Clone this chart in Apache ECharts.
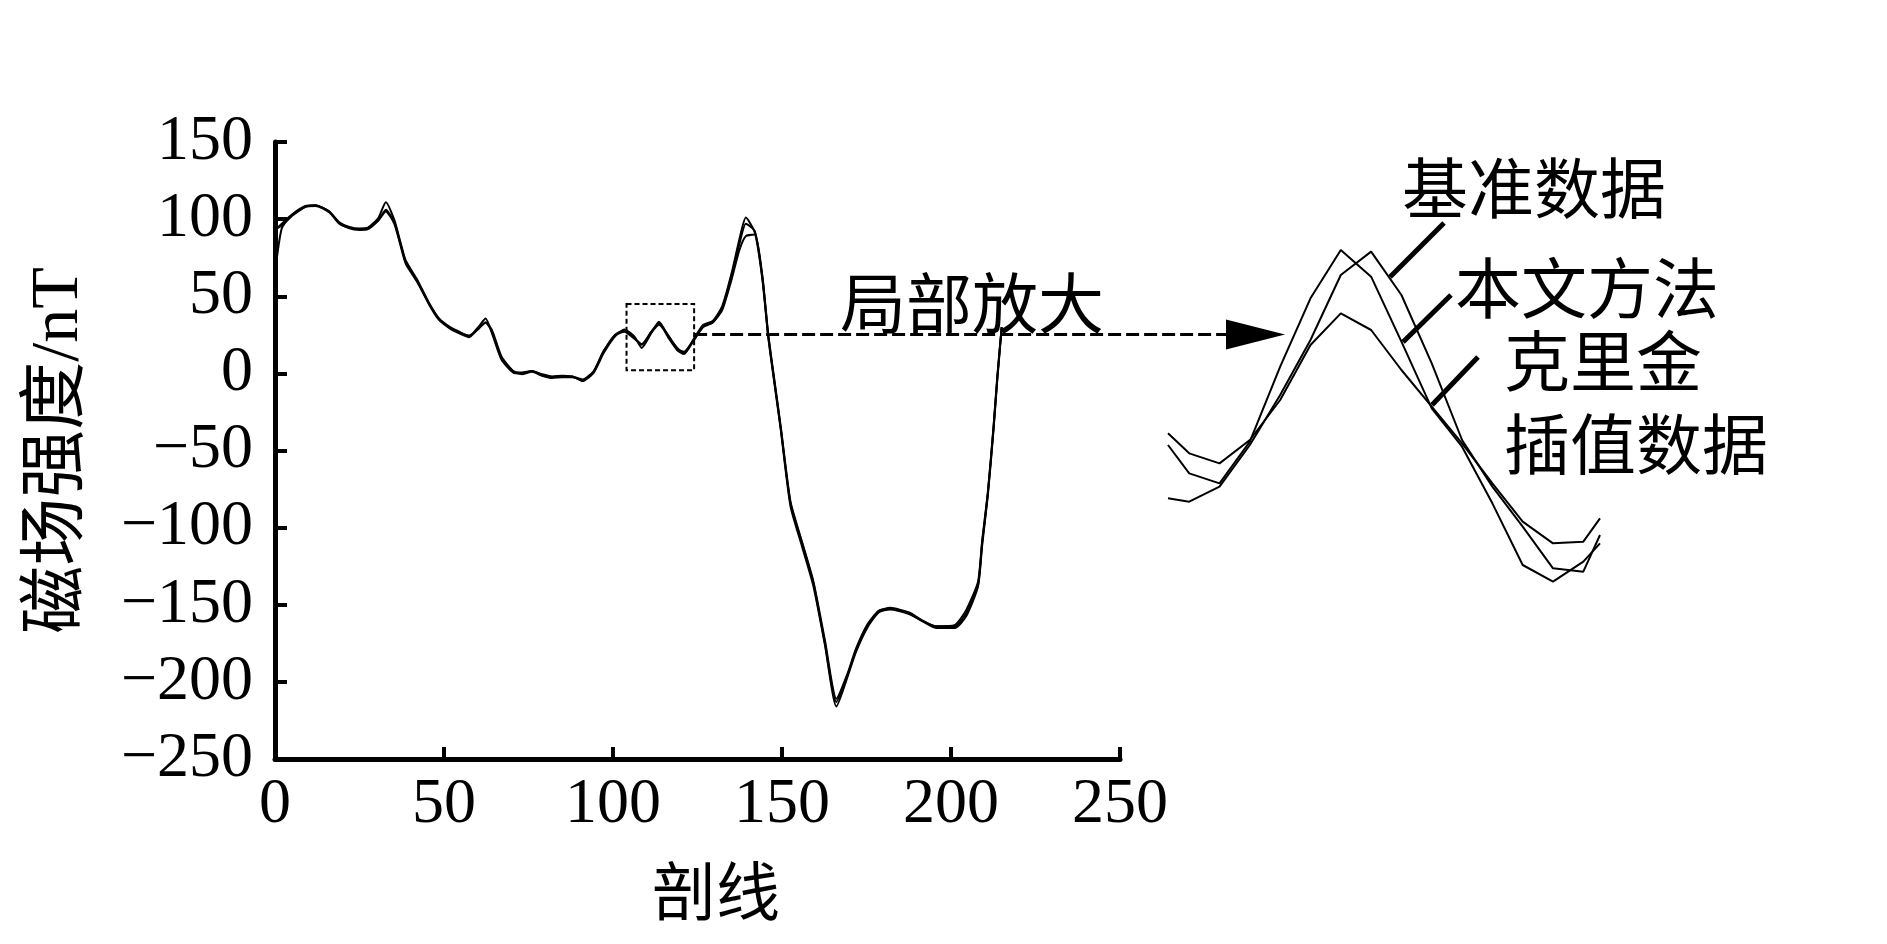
<!DOCTYPE html>
<html>
<head>
<meta charset="utf-8">
<script src="https://cdn.jsdelivr.net/npm/echarts@6/dist/echarts.min.js"></script>
<style>
  html, body { margin: 0; padding: 0; background: #fff; }
  #chart { width: 1887px; height: 944px; }
</style>
</head>
<body>
<div id="chart"></div>
<script>
// profile positions (剖线) and field strength (nT)
const xMain = [0, 2, 5, 9, 12, 16, 19, 22, 25, 27.5, 30.5, 32.8, 35.3, 37, 38.7, 42, 45.5, 48.4, 51.8, 54.5,
    57.4, 60.3, 62.3, 64.2, 67, 70.5, 73, 76, 79, 82, 85, 88, 91, 94.3, 97.2, 100.6, 103.4, 106.3, 108.5, 111.3,
    113.6, 116.4, 119, 121, 123.8, 126.7, 129.5, 132.3, 135.1, 137.4, 139.3, 142, 144.2, 145.9, 147.6, 149.6,
    152.5, 155.9, 159.3, 162.7, 166.1, 169.5, 171.8, 175.2, 178.6, 182, 187.6, 191, 195.6, 201.2, 204.6, 208,
    209.2, 210.9, 212.6, 213.7, 215];
const baseData = [93, 97, 103, 108.5, 109, 105, 98, 95, 94, 94.5, 100.5, 111, 99.5, 86, 73, 61, 46, 36, 30, 27,
    24, 30.5, 35.5, 26, 9, 0.5, 0, 1.5, -1, -2.5, -2, -2, -5, 0.5, 13, 24, 28.5, 24, 16.5, 26,
    33.5, 24, 16.5, 13, 22, 31.5, 34, 43.5, 65, 87, 101, 91, 61, 24, -4, -36,
    -86, -112, -138, -176, -216, -196, -181, -165, -155, -153, -156, -160, -165, -165, -157, -138,
    -112, -79, -36, -4, 30];
const proposedData = [93, 96, 102, 108, 109, 105, 97, 94.5, 93.5, 94, 99, 106, 98, 85, 72, 60, 45, 35, 29, 26,
    23.5, 29.5, 33, 27, 10, 1, -0.5, 1, -1.5, -3, -2.5, -2.5, -4.5, 1, 14, 25, 28, 23, 18.5, 27,
    32.5, 23, 15, 12.5, 21, 30.5, 33, 42, 63, 84, 97, 92, 62, 25, -3, -35,
    -84, -110, -136, -175, -213, -195, -180, -164, -154, -152.5, -155.5, -160, -164, -164, -155, -137,
    -110, -78, -35, -3, 30];
const krigingData = [65, 94, 102.5, 108, 108.5, 104.5, 97.5, 94, 93, 93.5, 99, 105, 97, 84, 71, 59.5, 45.5, 35.5, 29.5, 26.5,
    24.5, 29, 33, 28, 11, 1.5, 0.5, 1.5, -0.5, -2, -1.5, -2, -4, 1.5, 14.5, 24.5, 27, 22.5, 19, 26.5,
    31.5, 24.5, 16, 14, 21.5, 30, 33, 41, 61, 80, 89, 90, 63, 26, -2, -34,
    -83, -109, -135, -173, -211, -194, -179, -163, -154, -152, -155, -159.5, -164, -163, -153, -135,
    -109, -77, -34, -2, 30];

// magnified part (局部放大)
const insetX = [106.3, 107, 108, 109, 110, 111, 112, 113, 114, 115, 116, 117, 118, 119, 120, 120.55];
const insetBase = [17.9, 17.7, 18.6, 21.1, 24.1, 27.4, 31.3, 32.7, 30.1, 26.0, 21.4, 18.6, 16.2, 13.7, 13.5, 15.7];
const insetProposed = [21.1, 19.4, 18.8, 21.3, 25.8, 29.9, 32.8, 31.2, 27.3, 23.3, 21.0, 17.6, 13.9, 12.9, 14.1, 15.2];
const insetKriging = [21.8, 20.6, 20.0, 21.4, 23.8, 27.1, 29.0, 28.0, 25.6, 23.4, 21.2, 18.8, 16.5, 15.2, 15.3, 16.7];

const xTicks = [0, 250, 50];
const yTicks = [-250, 150, 50];
const zoomBox = [104, 124, 2, 45];
const arrowLevel = 25.2;

const serif = "'Liberation Serif', 'Noto Sans CJK SC'";
const cjk = "'Noto Sans CJK SC'";

const pairs = (xs, ys) => xs.map((x, i) => [x, ys[i]]);
const fmt = (v) => (v < 0 ? '\u2212' + Math.abs(v) : String(v));

const chart = echarts.init(document.getElementById('chart'), null, { renderer: 'canvas' });

const lineSeries = (name, data, width, idx, smooth) => ({
    name,
    type: 'line',
    xAxisIndex: idx,
    yAxisIndex: idx,
    data,
    smooth,
    showSymbol: false,
    symbol: 'none',
    lineStyle: { color: '#000', width },
    silent: true,
});

const option = {
    animation: false,
    backgroundColor: '#fff',
    grid: [
        { left: 275, top: 142, width: 845, height: 617 },
        { left: 1168, top: 130, width: 432, height: 500 },
    ],
    xAxis: [
        {
            type: 'value',
            gridIndex: 0,
            min: xTicks[0],
            max: xTicks[1],
            interval: xTicks[2],
            name: '剖线',
            nameLocation: 'middle',
            nameGap: 100,
            nameTextStyle: { fontFamily: cjk, fontSize: 64, color: '#000', padding: [0, 0, 0, 37] },
            axisLine: { onZero: false, lineStyle: { color: '#000', width: 5 } },
            axisTick: { inside: true, length: 12, lineStyle: { color: '#000', width: 4 } },
            axisLabel: { fontFamily: serif, fontSize: 64, color: '#000', margin: 14 },
            splitLine: { show: false },
        },
        {
            type: 'value', gridIndex: 1, min: insetX[0], max: insetX[insetX.length - 1], show: false,
        },
    ],
    yAxis: [
        {
            type: 'value',
            gridIndex: 0,
            min: yTicks[0],
            max: yTicks[1],
            interval: yTicks[2],
            name: '磁场强度/nT',
            nameLocation: 'middle',
            nameGap: 182,
            nameTextStyle: { fontFamily: serif, fontSize: 68, color: '#000' },
            axisLine: { onZero: false, lineStyle: { color: '#000', width: 5 } },
            axisTick: { inside: true, length: 12, lineStyle: { color: '#000', width: 4 } },
            axisLabel: {
                fontFamily: serif, fontSize: 64, color: '#000', margin: 22,
                formatter: fmt, padding: [0, 0, 12, 0],
            },
            splitLine: { show: false },
        },
        { type: 'value', gridIndex: 1, min: 10, max: 40, show: false },
    ],
    series: [
        Object.assign(lineSeries('基准数据', pairs(xMain, baseData), 2, 0, 0.2), {
            markArea: {
                silent: true,
                itemStyle: { color: 'rgba(0,0,0,0)', borderColor: '#000', borderWidth: 2, borderType: [5, 3] },
                data: [[{ coord: [zoomBox[0], zoomBox[3]] }, { coord: [zoomBox[1], zoomBox[2]] }]],
            },
        }),
        lineSeries('本文方法', pairs(xMain, proposedData), 2, 0, 0.2),
        lineSeries('克里金插值数据', pairs(xMain, krigingData), 2, 0, 0.2),
        lineSeries('基准数据', pairs(insetX, insetBase), 2, 1, false),
        lineSeries('本文方法', pairs(insetX, insetProposed), 2, 1, false),
        lineSeries('克里金插值数据', pairs(insetX, insetKriging), 2, 1, false),
    ],
};

chart.setOption(option);

// pointer from the dashed box to the magnified view, and the labels
const start = chart.convertToPixel({ gridIndex: 0 }, [zoomBox[1], arrowLevel]);
const ay = start[1];
const label = (text, x, y) => ({
    type: 'text',
    silent: true,
    style: { text, x, y, fontFamily: cjk, fontSize: 66, fill: '#000', textAlign: 'left', textVerticalAlign: 'middle' },
});
const leader = (x1, y1, x2, y2) => ({
    type: 'line',
    silent: true,
    shape: { x1, y1, x2, y2 },
    style: { stroke: '#000', lineWidth: 5 },
});

chart.setOption({
    graphic: [
        {
            type: 'line',
            silent: true,
            shape: { x1: start[0], y1: ay, x2: 1228, y2: ay },
            style: { stroke: '#000', lineWidth: 3, lineDash: [13, 5] },
        },
        {
            type: 'polygon',
            silent: true,
            shape: { points: [[1226, ay - 15], [1285, ay], [1226, ay + 15]] },
            style: { fill: '#000' },
        },
        label('局部放大', 840, 303),
        leader(1390, 277, 1444, 223),
        leader(1403, 342, 1451, 295),
        leader(1432, 405, 1478, 357),
        label('基准数据', 1402, 188),
        label('本文方法', 1455, 288),
        label('克里金', 1504, 361),
        label('插值数据', 1504, 444),
    ],
});
</script>
</body>
</html>
